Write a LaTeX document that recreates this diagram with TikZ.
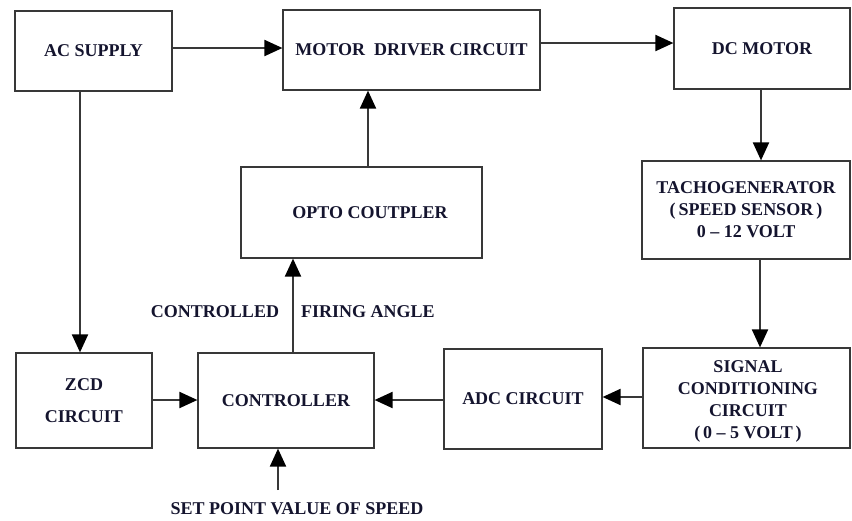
\documentclass[tikz,border=0pt]{standalone}
\usepackage{fontspec}
\setmainfont{Liberation Serif}
\usetikzlibrary{arrows.meta}
\definecolor{txt}{rgb}{0.08,0.08,0.18}
\definecolor{ln}{rgb}{0.22,0.22,0.22}
\begin{document}
\begin{tikzpicture}[x=1pt,y=-1pt,
  blk/.style={draw=ln,line width=2.2pt,rectangle,inner sep=0pt,text=txt,align=center,
    font=\fontsize{18}{22}\selectfont\bfseries},
  lbl/.style={text=txt,inner sep=0pt,font=\fontsize{18}{22}\selectfont\bfseries},
  arr/.style={draw=ln,line width=2pt,-{Triangle[length=18pt,width=16pt,color=black]},shorten >=-0.5pt},
  ln/.style={draw=ln,line width=2pt}]
\useasboundingbox (0,0) rectangle (852,520);
\node[blk,minimum width=157pt,minimum height=80pt] (ac) at (93.5,51) {AC SUPPLY};
\node[blk,minimum width=257pt,minimum height=80pt] (md) at (411.5,50) {MOTOR\ \ DRIVER CIRCUIT};
\node[blk,minimum width=176pt,minimum height=81pt] (dc) at (762,48.5) {DC MOTOR};
\node[blk,minimum width=208pt,minimum height=98pt] (tacho) at (746,210) {TACHOGENERATOR\\(\,SPEED SENSOR\,)\\0 -- 12 VOLT};
\node[blk,minimum width=207pt,minimum height=100pt] (sig) at (746.5,398) {};
\node[blk,draw=none] (sigt) at (748,401) {SIGNAL\\CONDITIONING\\CIRCUIT\\(\,0 -- 5 VOLT\,)};
\node[blk,minimum width=158pt,minimum height=100pt] (adc) at (523,399) {ADC CIRCUIT};
\node[blk,minimum width=176pt,minimum height=95pt] (ctrl) at (286,400.5) {CONTROLLER};
\node[blk,minimum width=136pt,minimum height=95pt] (zcd) at (84,400.5) {ZCD\\[10pt]CIRCUIT};
\node[blk,minimum width=241pt,minimum height=91pt] (opto) at (361.5,212.5) {};
\node[lbl] (optot) at (370,213) {OPTO COUTPLER};
\node[lbl] (ctl) at (215,312) {CONTROLLED};
\node[lbl] (fa) at (368,312) {FIRING ANGLE};
\node[lbl] (sptxt) at (297,509) {SET POINT VALUE OF SPEED};
\coordinate (sp) at (278,490);
% connectors
\draw[arr] (ac.east |- 0,48) -- (md.west |- 0,48);
\draw[arr] ([yshift=7pt]md.east) -- ([yshift=7pt]md.east -| dc.west);
\draw[arr] (dc.south -| 761,0) -- (tacho.north -| 761,0);
\draw[arr] (tacho.south -| 760,0) -- (sig.north -| 760,0);
\draw[arr] (sig.west |- 0,397) -- (adc.east |- 0,397);
\draw[arr] (adc.west |- 0,400) -- (ctrl.east |- 0,400);
\draw[arr] (zcd.east |- 0,400) -- (ctrl.west |- 0,400);
\draw[arr] (ac.south -| 80,0) -- (zcd.north -| 80,0);
\draw[arr] (ctrl.north -| 293,0) -- (opto.south -| 293,0);
\draw[arr] (opto.north -| 368,0) -- (md.south -| 368,0);
\draw[arr] (sp) -- (sp |- ctrl.south);
\end{tikzpicture}
\end{document}
